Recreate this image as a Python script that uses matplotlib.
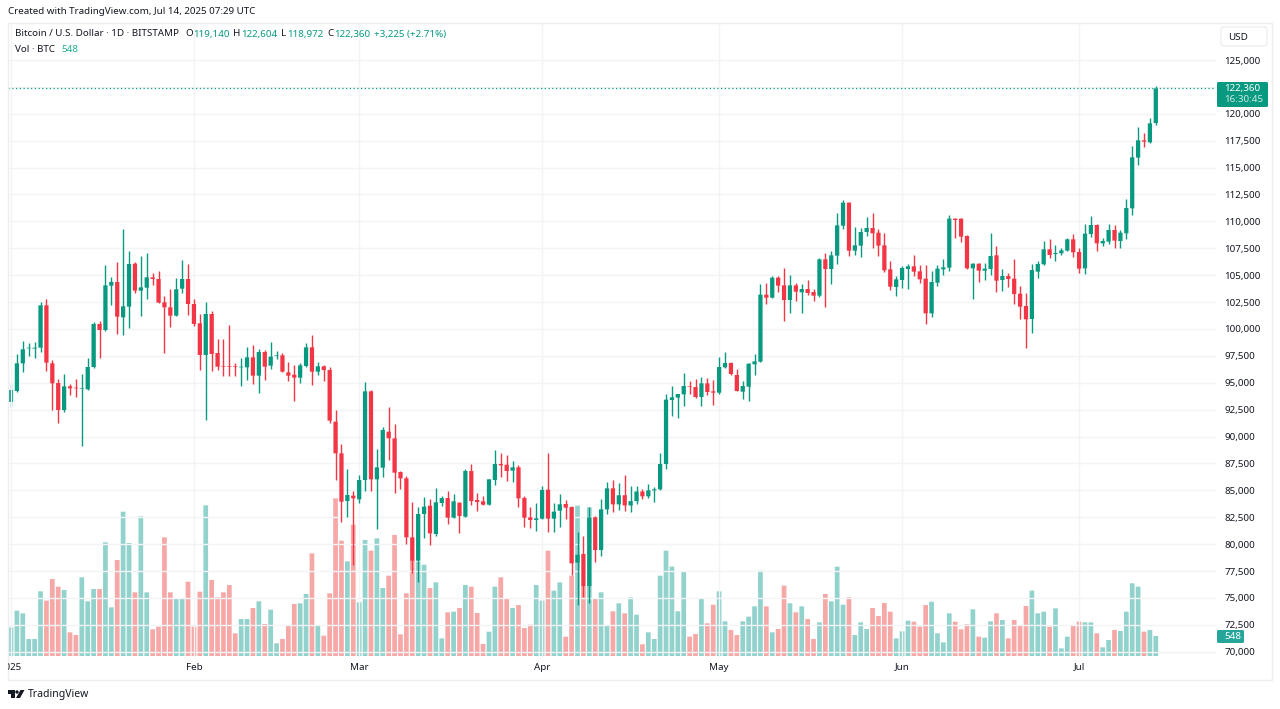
import matplotlib
matplotlib.use('Agg')
import matplotlib.pyplot as plt
from matplotlib.patches import Rectangle, FancyBboxPatch, Circle, Polygon
from matplotlib.transforms import Bbox

plt.rcParams['font.family'] = ['Noto Sans', 'DejaVu Sans']

# BTC/USD daily, 1 Jan - 14 Jul 2025
opens = [93215,94237,96808,98200,98180,98265,102199,96808,94980,92471,94670,94516,94420,94392,96468,100464,99906,104026,104367,101083,
         102075,106071,103562,103841,104801,104646,102477,102013,101238,103748,104646,102323,100526,97583,101393,97768,96560,96520,96498,96435,
         96435,97366,95662,97861,96591,97520,97552,95972,95755,95476,96560,98295,96033,96529,96188,91387,88443,84013,84509,84168,
         85965,94206,86027,87111,90457,89837,86709,86120,80636,78468,82805,83580,80946,83828,84292,82464,83859,82557,86801,84106,
         83982,83673,85965,87452,87390,86833,87142,84292,82495,82247,82371,85067,82371,83115,83735,83456,78282,79088,76113,82495,
         79460,83239,85191,83700,84550,83600,84000,84900,84450,85000,85100,87452,93400,93617,93927,94701,94608,93679,94949,94205,
         94081,96436,96839,95724,94174,94639,96715,96963,103190,102911,104770,104057,102694,104057,103407,103717,103438,103097,106474,105576,
         106815,109603,111741,107280,107744,109015,109386,108953,107775,105545,103903,104553,105576,105824,105359,104677,101455,104305,105545,105700,
         110254,110254,108643,105638,106072,105421,105576,106846,104553,104925,104677,103282,102137,100928,105327,106009,107403,106969,107032,107280,
         108333,107156,105637,108828,109665,107961,108116,109200,108178,108890,111214,115923,117534,117348,119140]
highs = [94887,97676,98853,98729,98790,102509,102757,97118,95321,95786,94887,95321,95786,97304,100650,100774,105916,104863,106226,109324,
         107218,106257,106784,107094,105204,105359,103097,103686,104739,106412,106009,102757,101393,102509,101700,99070,99070,100370,96870,97304,
         98295,98481,98109,98047,98791,97923,97737,96932,96684,96808,98729,99472,96901,96653,96436,92471,89280,86956,84974,86430,
         95042,94300,88877,90922,92719,91170,86800,86368,83890,83487,84354,84168,85191,84478,84974,84664,83950,86956,87421,84788,
         84447,86089,88722,88505,88289,87731,87359,84478,83425,83797,85407,88474,83797,84664,84106,83580,81101,80760,83487,82600,
         84199,85810,85965,85655,86400,85400,85400,85100,85600,85300,88443,93958,94701,94000,95878,95197,95321,95568,95414,95259,
         97427,97830,96963,96250,95197,96850,97675,104150,104305,104925,104925,105668,104986,104305,104182,104553,103686,106567,107032,107280,
         110749,111989,111800,109510,109386,110378,110749,109262,108891,106288,104925,105855,106040,106877,105979,105917,105359,105917,106474,110564,
         110316,110316,108705,106103,106165,106165,108953,107713,105544,105234,106474,103995,103375,106040,106319,108147,108333,107775,107496,108426,
         108828,107558,109758,110501,109758,108426,109727,109634,109200,112050,117007,118804,118184,119578,122604]
lows = [92781,94180,96034,97490,97273,97893,96127,92471,91232,92254,93834,93648,89125,94300,96400,97273,99850,102199,99503,99441,
        100061,103314,101238,102757,104119,102400,97738,100216,101200,103314,101300,100278,96189,91542,96126,96190,95662,95662,95662,94701,
        95259,94887,94082,95259,96250,97180,96000,95197,93338,95011,96436,94794,95724,95197,91294,85965,82092,82557,78065,83797,
        84974,84974,81411,86275,87824,84726,85160,80017,77291,76516,80544,79924,80760,83549,81876,82400,81070,82495,83642,83084,
        83610,83610,85469,86275,85872,85810,83487,81628,81535,81225,82300,81163,81163,81597,82309,77136,74347,75120,74564,78375,
        78902,82774,83000,83200,83100,83000,83700,84200,84300,83900,85000,87018,91944,91696,92842,93927,93600,92842,93834,92904,
        94000,96400,95755,94200,93524,93307,95755,96900,102322,102850,103407,100773,101455,102632,101455,103159,102632,103000,102075,104182,
        106040,109293,106815,106877,106660,108674,107558,106815,105328,103624,103066,103779,103686,104925,104244,100433,101146,103996,105018,105421,
        108426,108116,105600,102757,104399,104554,105018,103407,103561,103933,102322,100897,98202,99658,104708,105916,106629,106350,106877,107248,
        106722,105234,105080,108580,107248,107744,107899,107496,107496,108333,110594,115241,116945,117255,118972]
closes = [94330,96808,98110,98250,98260,102199,96870,94950,92471,94670,94485,94485,94480,96468,100464,99906,104057,104367,101145,102106,
          106040,103562,103872,104801,104646,102447,102013,101238,103686,104646,102323,100464,97583,101393,97675,96498,96500,96480,96465,96470,
          97366,95662,97861,96498,97428,97560,96033,95662,95476,96622,98295,96033,96529,96188,91480,88443,83951,84571,84261,85965,
          94206,86027,87142,90612,89837,86647,86120,80636,78468,82805,83487,81008,83890,84292,82464,83982,82619,86801,84013,83920,
          83673,86027,87452,87328,86801,87142,84261,82464,82247,82402,85035,82371,83022,83704,83394,78220,79026,76113,82495,79460,
          83239,85191,83700,84550,83600,84000,84900,84450,85000,85100,87452,93431,93648,93958,94701,94639,93679,94949,94143,94081,
          96467,96839,95817,94236,94701,96777,96994,103190,102911,104770,104026,102694,104057,103469,103717,103345,103097,106474,105576,106846,
          109634,111741,107280,107775,109015,109386,108891,107744,105452,103934,104615,105669,105824,105328,104615,101455,104367,105607,105731,110254,
          110130,108581,105638,106072,105421,105607,106784,104491,104925,104646,103252,102075,100897,105482,106040,107403,106876,107063,107310,108333,
          107125,105606,108859,109665,107961,108178,109200,108209,108952,111245,115954,117534,117410,119114,122360]
volumes = [783,1238,1165,464,464,1765,1511,2102,1893,1802,646,573,2148,1492,1829,1829,3103,1329,2621,3940,
           3085,1738,3813,1738,728,801,3240,1738,1556,1556,2029,801,1756,4113,2075,1602,1738,1938,619,1010,
           1010,1310,1492,874,1265,346,464,819,1420,1438,1693,2803,819,555,1711,4304,3149,2584,3585,1465,
           3167,2876,3212,1856,2193,3303,592,1711,2620,2575,2493,1856,2011,482,1192,1210,1310,1938,1893,1174,
           328,664,1893,2148,1583,1310,1392,764,855,1938,1511,2876,1784,2011,528,2193,4104,1911,4059,1574,
           1738,846,1219,1438,1165,1602,1128,319,646,464,2193,2876,2439,1219,2311,528,601,1574,892,1401,
           1765,946,710,573,946,1074,1356,2330,1356,646,737,1920,1438,1192,1356,1010,464,919,1693,1492,
           2439,1401,1602,573,919,737,1310,1092,1447,1210,482,673,965,937,801,1392,1483,619,373,1165,
           937,728,865,1274,528,501,946,1165,983,482,983,819,1365,1784,1165,1210,801,1301,209,528,
           828,937,919,919,619,237,437,710,683,1210,1984,1893,664,710,548]
price_ticks = list(range(70000, 125001, 2500))
month_days = [32, 60, 91, 121, 152, 182]
month_labels = ['Feb', 'Mar', 'Apr', 'May', 'Jun', 'Jul']

GREEN = '#089981'
RED = '#f23645'
GRID = '#f3f4f6'
TEXT = '#131722'
FONT = 7.05

days = list(range(1, len(closes) + 1))
up = [c >= o for o, c in zip(opens, closes)]
candle_colors = [GREEN if u else RED for u in up]
vol_colors = ['#26a69a' if u else '#ef5350' for u in up]

fig = plt.figure(figsize=(12.8, 7.09), dpi=100)


def px_rect(left, top, right, bottom):
    return [left / 1280, 1 - bottom / 709, (right - left) / 1280, (bottom - top) / 709]


ax = fig.add_axes(px_rect(8, 23, 1216, 657))
vol = ax.twinx()
ax.set_zorder(2)
vol.set_zorder(1)
ax.patch.set_visible(False)

# snap off, otherwise the bar widths jump between 3 and 5 px
for b in vol.bar(days, volumes, width=0.8, color=vol_colors, alpha=0.5, linewidth=0):
    b.set_snap(False)
vol.set_ylim(-27.3, 17281)
vol.set_yticks([])

ax.vlines(days, lows, highs, colors=candle_colors, linewidth=1, zorder=3)
bottoms = [min(o, c) for o, c in zip(opens, closes)]
heights = [max(abs(c - o), 60) for o, c in zip(opens, closes)]
for b in ax.bar(days, heights, bottom=bottoms, width=0.72, color=candle_colors, linewidth=0, zorder=4):
    b.set_snap(False)
ax.axhline(closes[-1], color=GREEN, linewidth=0.9, linestyle=(0, (1, 2)), zorder=2)

ax.set_xlim(0.49, 205.2)
ax.set_ylim(69515, 128439)
ax.set_yticks(price_ticks)
ax.set_yticklabels([f'{p:,}' for p in price_ticks], fontsize=FONT, color=TEXT)
ax.yaxis.tick_right()
ax.set_xticks(month_days)
ax.set_xticklabels(month_labels, fontsize=FONT, color=TEXT)
ax.tick_params(axis='both', length=0)
ax.tick_params(axis='y', pad=6)
ax.tick_params(axis='x', pad=4)
ax.grid(True, color=GRID, linewidth=1, zorder=0)
ax.set_axisbelow(True)
for a in (ax, vol):
    for s in a.spines.values():
        s.set_visible(False)

# frame, labels and logo in pixel coords
top = fig.add_axes([0, 0, 1, 1])
top.set_zorder(5)
top.set_xlim(0, 1280)
top.set_ylim(709, 0)
top.axis('off')
top.add_patch(Rectangle((8, 22.5), 1264, 657, fill=False, edgecolor='#eceef2', linewidth=1))
top.vlines(10.5, 23, 657, color=GRID, linewidth=1)

top.text(8, 12, 'Created with TradingView.com, Jul 14, 2025 07:29 UTC', fontsize=FONT, color=TEXT, va='center')
top.text(15, 34, 'Bitcoin / U.S. Dollar · 1D · BITSTAMP', fontsize=FONT, color=TEXT, va='center')
for x, letter, vx, value in [(185, 'O', 193, '119,140'), (233, 'H', 241, '122,604'),
                             (281, 'L', 287, '118,972'), (327.5, 'C', 334, '122,360')]:
    top.text(x, 34, letter, fontsize=FONT, color=TEXT, va='center')
    top.text(vx, 34, value, fontsize=FONT, color=GREEN, va='center')
top.text(374, 34, '+3,225 (+2.71%)', fontsize=FONT, color=GREEN, va='center')
top.text(15, 49, 'Vol · BTC', fontsize=FONT, color=TEXT, va='center')
top.text(61, 49, '548', fontsize=FONT, color='#22ab94', va='center')

year = top.text(11, 667.5, '2025', fontsize=FONT, color=TEXT, ha='center', va='center')
year.set_clip_on(True)
year.set_clip_box(Bbox([[8, 0], [60, 709]]))

top.add_patch(FancyBboxPatch((1221, 27), 46, 19, boxstyle='round,pad=0,rounding_size=3',
                             facecolor='white', edgecolor='#eceef2', linewidth=1))
top.text(1228, 37, 'USD', fontsize=FONT, color=TEXT, va='center')

top.add_patch(FancyBboxPatch((1217, 82), 51, 25, boxstyle='round,pad=0,rounding_size=1.5',
                             facecolor=GREEN, edgecolor='none'))
top.text(1224, 88, '122,360', fontsize=FONT, color='white', va='center')
top.text(1224, 100, '16:30:45', fontsize=FONT, color='#cdeae5', va='center')
top.add_patch(FancyBboxPatch((1217, 630), 27, 13, boxstyle='round,pad=0,rounding_size=1.5',
                             facecolor='#26a69a', edgecolor='none'))
top.text(1224, 636.5, '548', fontsize=FONT, color='white', va='center')

# TV logo
top.add_patch(Polygon([(8, 690), (15, 690), (15, 698), (11, 698), (11, 693.5), (8, 693.5)], color='#131722', linewidth=0))
top.add_patch(Circle((17, 692), 1.7, color='#131722', linewidth=0))
top.add_patch(Polygon([(20.5, 690), (24.5, 690), (20, 698), (16, 698)], color='#131722', linewidth=0))
top.text(28, 694.5, 'TradingView', fontsize=7.5, color=TEXT, va='center')

fig.savefig('out.png', dpi=100)
